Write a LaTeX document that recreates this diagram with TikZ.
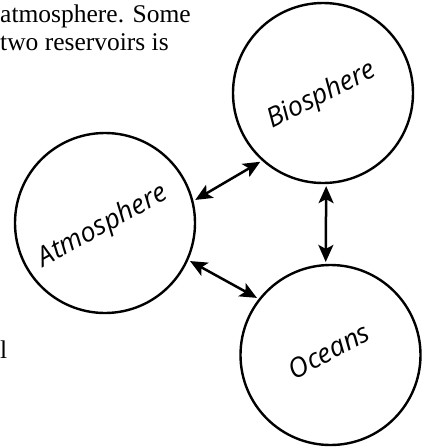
\documentclass[tikz,border=0pt]{standalone}
\usepackage{fontspec}
\setmainfont{Liberation Serif}
\newfontfamily\labelfont{Open Sans}
\usetikzlibrary{arrows.meta}

\begin{document}
\begin{tikzpicture}[x=1pt,y=-1pt,
    reservoir/.style={circle,draw,line width=2.4pt,minimum size=180pt,inner sep=0pt},
    flow/.style={{Stealth[length=17pt,width=15pt,inset=4pt]}-{Stealth[length=17pt,width=15pt,inset=4pt]},line width=2.5pt,shorten >=2pt,shorten <=2pt},
    bodytext/.style={anchor=base west,inner sep=0pt,font=\fontsize{25.5}{28}\selectfont},
    reservoirname/.style={anchor=base,inner sep=0pt,rotate=#1,font=\labelfont\itshape\fontsize{27}{27}\selectfont}]
    \useasboundingbox (0,0) rectangle (425,447);
    % cut-off lines of the page text
    \node[bodytext] (line1) at (0,22) {atmosphere. Some};
    \node[bodytext] (line2) at (0,50) {two reservoirs is};
    \node[bodytext] (line3) at (0,358) {l};
    % the three reservoirs
    \node[reservoir] (bio) at (323,93) {};
    \node[reservoir] (atmo) at (105,223) {};
    \node[reservoir] (ocean) at (330.5,355) {};
    \node[reservoirname=27] (biolabel) at (325,102) {Biosphere};
    \node[reservoirname=29] (atmolabel) at (106.5,232.5) {Atmosphere};
    \node[reservoirname=28] (oceanlabel) at (333.5,359.5) {Oceans};
    % exchanges
    \draw[flow] (atmo.14) -- (bio.228);
    \draw[flow] (atmo.-24) -- (ocean.142);
    \draw[flow] (bio.-88) -- (ocean.93);
\end{tikzpicture}
\end{document}
